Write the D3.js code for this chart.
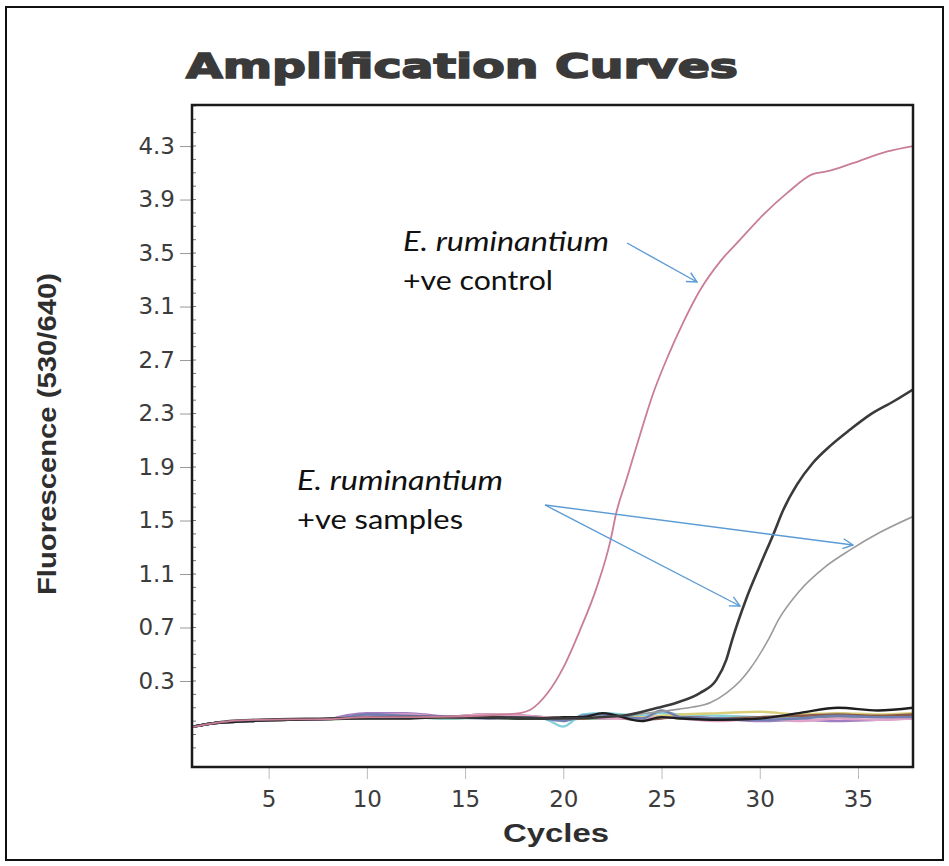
<!DOCTYPE html>
<html>
<head>
<meta charset="utf-8">
<script src="https://cdn.jsdelivr.net/npm/d3@7"></script>
<style>
  html, body { margin: 0; padding: 0; background: #fff; }
  svg { display: block; }
</style>
</head>
<body>
<div id="chart"></div>
<script>
// tick labels
const yTicks = [0.3, 0.7, 1.1, 1.5, 1.9, 2.3, 2.7, 3.1, 3.5, 3.9, 4.3];
const xTicks = [5, 10, 15, 20, 25, 30, 35];

// E. ruminantium positive control (pink)
const ctrlCycles = [1.1, 2, 3, 4.5, 8, 10, 12, 15, 17, 17.8, 18.3, 19.2, 20, 20.85, 21.7, 22.4, 22.7, 23.2, 24.05, 24.55, 25.3, 26.1, 26.95, 28, 29, 30, 31.4, 32.7, 33.4, 34.7, 36.5, 37.8];
const ctrlValues = [-0.044, -0.02, 0.0, 0.01, 0.015, 0.03, 0.03, 0.035, 0.05, 0.06, 0.083, 0.21, 0.40, 0.68, 1.0, 1.35, 1.56, 1.80, 2.21, 2.44, 2.72, 2.98, 3.22, 3.44, 3.60, 3.76, 3.95, 4.09, 4.11, 4.17, 4.26, 4.30];

// positive sample 1 (dark)
const s1Cycles = [1.1, 2, 3, 4.5, 8, 12, 16, 20, 23, 24.8, 25.8, 26.95, 27.8, 28.3, 28.6, 29.3, 30, 30.7, 31.2, 31.9, 32.7, 33.6, 34.6, 35.6, 36.8, 37.8];
const s1Values = [-0.044, -0.02, 0.0, 0.01, 0.02, 0.03, 0.03, 0.02, 0.04, 0.10, 0.14, 0.21, 0.31, 0.46, 0.61, 0.91, 1.16, 1.40, 1.58, 1.77, 1.93, 2.06, 2.18, 2.29, 2.39, 2.48];

// positive sample 2 (grey)
const s2Cycles = [1.1, 2, 3, 4.5, 8, 12, 16, 20, 23, 25.9, 26.6, 27.5, 28.3, 29, 29.5, 30.4, 31, 32, 33.3, 34.6, 36.1, 37.8];
const s2Values = [-0.044, -0.02, 0.0, 0.01, 0.02, 0.03, 0.03, 0.02, 0.04, 0.09, 0.105, 0.14, 0.21, 0.30, 0.39, 0.60, 0.77, 0.97, 1.15, 1.28, 1.41, 1.53];

// negative samples (flat traces)
const negCycles = [1.1, 2, 4, 6, 8, 9, 10, 12, 14, 16, 18, 19, 20, 21, 22, 24, 25, 26, 28, 30, 32, 34, 36, 37.8];
const negColors = ['#a07cc0', '#5f9e6e', '#86d0dc', '#d9cf7a', '#8b5a4b', '#e2a3c8', '#6f7fb0', '#1e1e1e'];
const negValues = [
  [-0.044, -0.02, 0.0, 0.01, 0.015, 0.045, 0.06, 0.06, 0.035, 0.03, 0.03, 0.03, 0.02, 0.02, 0.03, 0.02, 0.07, 0.04, 0.02, 0.0, 0.01, 0.0, 0.01, 0.02],
  [-0.044, -0.02, 0.0, 0.01, 0.015, 0.02, 0.03, 0.03, 0.02, 0.025, 0.02, 0.02, 0.01, 0.02, 0.02, 0.03, 0.03, 0.02, 0.01, 0.02, 0.03, 0.03, 0.04, 0.05],
  [-0.044, -0.02, 0.0, 0.01, 0.015, 0.02, 0.03, 0.03, 0.02, 0.03, 0.03, 0.02, -0.04, 0.05, 0.06, 0.04, 0.06, 0.05, 0.04, 0.03, 0.02, 0.06, 0.03, 0.04],
  [-0.044, -0.02, 0.0, 0.01, 0.015, 0.02, 0.03, 0.03, 0.025, 0.03, 0.03, 0.03, 0.02, 0.03, 0.04, 0.03, 0.04, 0.05, 0.06, 0.07, 0.05, 0.06, 0.05, 0.06],
  [-0.044, -0.02, 0.0, 0.01, 0.015, 0.025, 0.04, 0.035, 0.03, 0.05, 0.04, 0.03, 0.02, 0.02, 0.03, 0.01, 0.02, 0.03, 0.02, 0.03, 0.04, 0.05, 0.04, 0.05],
  [-0.044, -0.02, 0.0, 0.01, 0.015, 0.03, 0.04, 0.05, 0.03, 0.05, 0.04, 0.03, 0.02, 0.03, 0.02, 0.02, 0.03, 0.02, 0.0, 0.02, 0.0, 0.02, 0.01, 0.02],
  [-0.044, -0.02, 0.0, 0.01, 0.015, 0.03, 0.05, 0.04, 0.03, 0.02, 0.03, 0.02, 0.0, 0.04, 0.05, 0.02, 0.08, 0.03, 0.02, 0.01, 0.02, 0.04, 0.03, 0.03],
  [-0.044, -0.02, 0.0, 0.01, 0.015, 0.02, 0.02, 0.02, 0.03, 0.025, 0.02, 0.02, 0.03, 0.03, 0.06, 0.0, 0.03, 0.02, 0.01, 0.02, 0.06, 0.1, 0.08, 0.1]
];

const width = 949, height = 866;
const plot = { left: 192, right: 913, top: 105, bottom: 767 };

const svg = d3.select('#chart').append('svg')
  .attr('width', width)
  .attr('height', height)
  .attr('viewBox', `0 0 ${width} ${height}`);

// outer frame
svg.append('rect')
  .attr('x', 6).attr('y', 7)
  .attr('width', 937).attr('height', 853)
  .attr('fill', '#fff')
  .attr('stroke', '#111')
  .attr('stroke-width', 2);

const x = d3.scaleLinear().domain([1.1, 37.8]).range([plot.left, plot.right]);
const y = d3.scaleLinear().domain([-0.343, 4.607]).range([plot.bottom, plot.top]);

// title
svg.append('text')
  .attr('x', 186).attr('y', 78)
  .attr('textLength', 552)
  .attr('lengthAdjust', 'spacingAndGlyphs')
  .attr('font-family', 'DejaVu Sans, sans-serif')
  .attr('font-weight', 'bold')
  .attr('font-size', 34)
  .attr('fill', '#3a3a3a')
  .attr('stroke', '#3a3a3a')
  .attr('stroke-width', 1.6)
  .text('Amplification Curves');

// y axis
const yAxis = d3.axisLeft(y)
  .tickValues(yTicks)
  .tickFormat(d3.format('.1f'))
  .tickSize(12)
  .tickSizeOuter(0)
  .tickPadding(5);

const gy = svg.append('g')
  .attr('transform', `translate(${plot.left},0)`)
  .call(yAxis);
gy.select('.domain').remove();
gy.selectAll('.tick line').attr('stroke', '#999').attr('stroke-width', 1);
gy.selectAll('.tick text')
  .attr('font-family', 'DejaVu Sans, sans-serif')
  .attr('font-size', 23)
  .attr('fill', '#3c3c3c');

// y minor ticks
const minorY = y.ticks(50).filter(v => v > -0.3);
svg.append('g').selectAll('line')
  .data(minorY)
  .enter().append('line')
  .attr('x1', plot.left).attr('x2', plot.left + 4)
  .attr('y1', d => y(d)).attr('y2', d => y(d))
  .attr('stroke', '#777').attr('stroke-width', 1);

// x axis
const xAxis = d3.axisBottom(x)
  .tickValues(xTicks)
  .tickSize(12)
  .tickSizeOuter(0)
  .tickPadding(12);

const gx = svg.append('g')
  .attr('transform', `translate(0,${plot.bottom})`)
  .call(xAxis);
gx.select('.domain').remove();
gx.selectAll('.tick line').attr('stroke', '#bbb').attr('stroke-width', 1);
gx.selectAll('.tick text')
  .attr('font-family', 'DejaVu Sans, sans-serif')
  .attr('font-size', 23)
  .attr('fill', '#3c3c3c');

// axis titles
svg.append('text')
  .attr('x', 556).attr('y', 842)
  .attr('text-anchor', 'middle')
  .attr('textLength', 106)
  .attr('lengthAdjust', 'spacingAndGlyphs')
  .attr('font-family', 'Liberation Sans, Arial, sans-serif')
  .attr('font-weight', 'bold')
  .attr('font-size', 25)
  .attr('fill', '#2e2e2e')
  .text('Cycles');

svg.append('text')
  .attr('transform', 'translate(56,434) rotate(-90)')
  .attr('text-anchor', 'middle')
  .attr('textLength', 322)
  .attr('lengthAdjust', 'spacingAndGlyphs')
  .attr('font-family', 'Liberation Sans Narrow, Liberation Sans, sans-serif')
  .attr('font-weight', 'bold')
  .attr('font-size', 25)
  .attr('fill', '#2e2e2e')
  .text('Fluorescence (530/640)');

// curves
svg.append('clipPath').attr('id', 'plot-clip')
  .append('rect')
  .attr('x', plot.left).attr('y', plot.top)
  .attr('width', plot.right - plot.left).attr('height', plot.bottom - plot.top);

const line = d3.line()
  .x(d => x(d[0]))
  .y(d => y(d[1]))
  .curve(d3.curveMonotoneX);

const curves = svg.append('g').attr('clip-path', 'url(#plot-clip)');

negValues.forEach((vals, i) => {
  curves.append('path')
    .datum(negCycles.map((c, j) => [c, vals[j]]))
    .attr('d', line)
    .attr('fill', 'none')
    .attr('stroke', negColors[i])
    .attr('stroke-width', 2.4);
});

curves.append('path')
  .datum(s2Cycles.map((c, j) => [c, s2Values[j]]))
  .attr('d', line)
  .attr('fill', 'none')
  .attr('stroke', '#9a9a9a')
  .attr('stroke-width', 1.6);

curves.append('path')
  .datum(s1Cycles.map((c, j) => [c, s1Values[j]]))
  .attr('d', line)
  .attr('fill', 'none')
  .attr('stroke', '#3a3a3a')
  .attr('stroke-width', 2.6);

curves.append('path')
  .datum(ctrlCycles.map((c, j) => [c, ctrlValues[j]]))
  .attr('d', line)
  .attr('fill', 'none')
  .attr('stroke', '#c97d98')
  .attr('stroke-width', 1.8);

// plot frame
svg.append('rect')
  .attr('x', plot.left).attr('y', plot.top)
  .attr('width', plot.right - plot.left).attr('height', plot.bottom - plot.top)
  .attr('fill', 'none')
  .attr('stroke', '#1a1a1a')
  .attr('stroke-width', 2.5);

// annotations
svg.append('defs').append('marker')
  .attr('id', 'arrow')
  .attr('viewBox', '0 0 12 12')
  .attr('refX', 11).attr('refY', 6)
  .attr('markerWidth', 12).attr('markerHeight', 12)
  .attr('markerUnits', 'userSpaceOnUse')
  .attr('orient', 'auto')
  .append('path')
  .attr('d', 'M1,1 L11,6 L1,11')
  .attr('fill', 'none')
  .attr('stroke', '#5b9bd5')
  .attr('stroke-width', 1.4);

const arrows = [
  [627, 243, 697, 282],
  [545, 505, 740, 606],
  [545, 505, 853, 545]
];
svg.append('g').selectAll('line')
  .data(arrows)
  .enter().append('line')
  .attr('x1', d => d[0]).attr('y1', d => d[1])
  .attr('x2', d => d[2]).attr('y2', d => d[3])
  .attr('stroke', '#5b9bd5')
  .attr('stroke-width', 1.4)
  .attr('marker-end', 'url(#arrow)');

function label(xp, yp, second, w1, w2) {
  const t = svg.append('text')
    .attr('font-family', 'Lato, Open Sans, sans-serif')
    .attr('font-size', 27)
    .attr('fill', '#111');
  t.append('tspan')
    .attr('x', xp).attr('y', yp)
    .attr('font-style', 'italic')
    .attr('textLength', w1)
    .attr('lengthAdjust', 'spacingAndGlyphs')
    .text('E. ruminantium');
  t.append('tspan')
    .attr('x', xp).attr('y', yp + 39)
    .attr('textLength', w2)
    .attr('lengthAdjust', 'spacingAndGlyphs')
    .text(second);
}
label(403, 251, '+ve control', 206, 150);
label(297, 490, '+ve samples', 206, 166);
</script>
</body>
</html>
